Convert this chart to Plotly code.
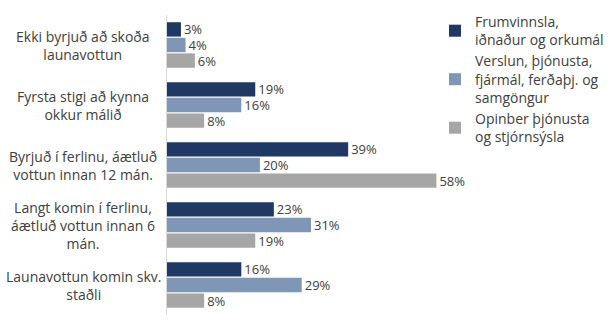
import plotly.graph_objects as go

# Categories (top to bottom) and the share in each sector, in percent
categories = [
    "Ekki byrjuð að skoða<br>launavottun",
    "Fyrsta stigi að kynna<br>okkur málið",
    "Byrjuð í ferlinu, áætluð<br>vottun innan 12 mán.",
    "Langt komin í ferlinu,<br>áætluð vottun innan 6<br>mán.",
    "Launavottun komin skv.<br>staðli",
]
series_names = [
    "Frumvinnsla,<br>iðnaður og orkumál",
    "Verslun, þjónusta,<br>fjármál, ferðaþj. og<br>samgöngur",
    "Opinber þjónusta<br>og stjórnsýsla",
]
frumvinnsla = [3, 19, 39, 23, 16]
verslun = [4, 16, 20, 31, 29]
opinber = [6, 8, 58, 19, 8]
series_values = [frumvinnsla, verslun, opinber]
colors = ["#1F3864", "#8096B6", "#A6A6A6"]

W, H = 615, 330
L, R, T, B = 167, 160, 15, 15
PW = W - L - R
PH = H - T - B

fig = go.Figure()
for name, vals, col in zip(series_names, series_values, colors):
    fig.add_trace(go.Bar(
        y=categories, x=vals, orientation="h", name=name,
        marker=dict(color=col, line=dict(width=0)),
        text=[f"{v}%" for v in vals], textposition="outside",
        constraintext="none",
        textfont=dict(family="Open Sans", size=13, color="#404040"),
        cliponaxis=False,
    ))

# Category labels drawn centred to the left of the axis
for cat in categories:
    fig.add_annotation(
        x=-(L - 83) / PW, xref="paper", y=cat, yref="y",
        text=cat, showarrow=False, xanchor="center", align="center",
        font=dict(family="Open Sans", size=14, color="#404040"),
    )

fig.update_layout(
    width=W, height=H,
    margin=dict(l=L, r=R, t=T, b=B, autoexpand=False),
    paper_bgcolor="white", plot_bgcolor="white",
    barmode="group", bargap=0.22, bargroupgap=0.08,
    showlegend=True,
    legend=dict(
        xref="paper", yref="paper",
        x=(435 - L) / PW, y=1 + (T - 6) / PH,
        xanchor="left", yanchor="top",
        font=dict(family="Open Sans", size=14, color="#404040"),
        bgcolor="rgba(0,0,0,0)", itemwidth=30, tracegroupgap=0,
    ),
    xaxis=dict(range=[0, 62], visible=False, fixedrange=True),
    yaxis=dict(
        autorange="reversed", showticklabels=False, ticks="",
        showline=True, linecolor="#D9D9D9", linewidth=1, showgrid=False,
    ),
)

fig.write_html("out.html")
